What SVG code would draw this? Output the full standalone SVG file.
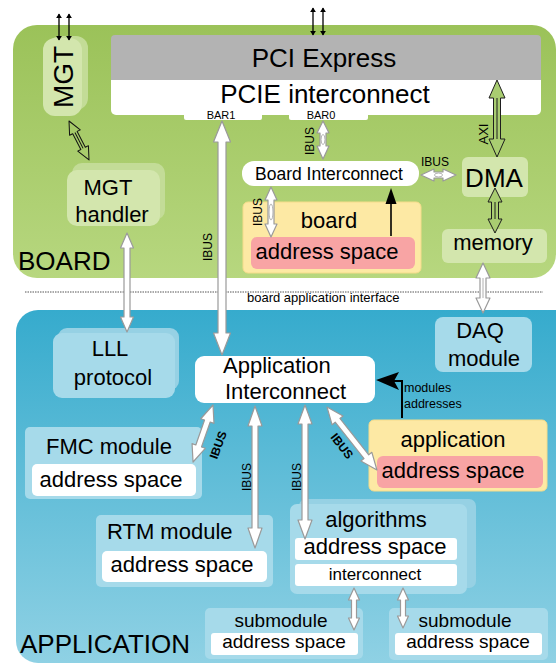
<svg xmlns="http://www.w3.org/2000/svg" width="556" height="663" viewBox="0 0 556 663">
<defs>
<linearGradient id="gBoard" x1="0" y1="0" x2="0" y2="1">
<stop offset="0" stop-color="#9bc259"/>
<stop offset="1" stop-color="#b7d77f"/>
</linearGradient>
<linearGradient id="gApp" x1="0" y1="0" x2="0" y2="1">
<stop offset="0" stop-color="#36abcd"/>
<stop offset="1" stop-color="#8fd1e4"/>
</linearGradient>
<marker id="mb" viewBox="0 0 8 10" refX="7" refY="5" markerWidth="5" markerHeight="6" orient="auto-start-reverse" markerUnits="userSpaceOnUse">
<path d="M0,0 L8,5 L0,10 Z" fill="#000"/>
</marker>
</defs>
<style>
text{font-family:"Liberation Sans",Arial,sans-serif;fill:#000}
.c{text-anchor:middle}
.region{font-size:26px}
.t22{font-size:22px}
.t26{font-size:26px}
.lbl{font-size:12px}
.bar{font-size:11px}
.bl{font-size:12px;font-weight:bold}
.lg{fill:#d3e6ad}
.lgs{fill:#c3dc97}
.lb{fill:#a6daea}
.lbs{fill:#96d1e4}
.wh{fill:#fff}
.yel{fill:#fde9a4;stroke:#f5dc8a;stroke-width:1}
.red{fill:#f8a4a4}
.wa{fill:#fff;stroke:#9a9a9a;stroke-width:1.2;stroke-linejoin:round}
.wl{stroke:#b0b0b0;stroke-width:1;fill:none}
.ga{fill:#a9cd71;stroke:#1e1e1e;stroke-width:1;stroke-linejoin:round}
.ka{fill:none;stroke:#111;stroke-width:1;stroke-linejoin:round}
.kl{stroke:#000;stroke-width:1.3;fill:none}
</style>

<g id="board-region">
<rect x="13" y="25" width="543" height="253" rx="24" fill="url(#gBoard)"/>
<text x="18" y="270" class="region">BOARD</text>
</g>
<g id="interface-line">
<line x1="25" y1="292" x2="543" y2="292" stroke="#555" stroke-width="1" stroke-dasharray="1.5,1"/>
<text x="247" y="302" style="font-size:13px">board application interface</text>
</g>
<g id="application-region">
<rect x="16" y="310" width="560" height="353" rx="22" fill="url(#gApp)"/>
<text x="20" y="653" class="region">APPLICATION</text>
</g>

<g id="pci-express">
<rect x="111" y="35" width="430" height="50" rx="4" fill="#b3b3b3"/>
<text x="324" y="67" class="c t26">PCI Express</text>
</g>
<g id="pcie-interconnect">
<rect x="111" y="80" width="430" height="35" rx="5" class="wh"/>
<rect x="111" y="80" width="430" height="10" class="wh"/>
<rect x="184" y="110" width="78" height="10" rx="2" class="wh"/>
<rect x="289" y="110" width="79" height="10" rx="2" class="wh"/>
<text x="325" y="103" class="c t26">PCIE interconnect</text>
<text x="221" y="119" class="c bar">BAR1</text>
<text x="321" y="119" class="c bar">BAR0</text>
</g>

<g id="mgt">
<rect x="48" y="36" width="40" height="74" rx="12" class="lgs"/>
<rect x="43" y="38" width="39" height="78" rx="12" class="lg"/>
<text transform="translate(73,77) rotate(-90)" class="c" style="font-size:28px">MGT</text>
</g>
<g id="mgt-handler">
<rect x="72" y="163" width="93" height="57" rx="10" class="lgs"/>
<rect x="67" y="170" width="93" height="56" rx="10" class="lg"/>
<text x="108" y="195" class="c t22">MGT</text>
<text x="112" y="222" class="c t22">handler</text>
</g>
<g id="board-interconnect">
<rect x="242" y="161" width="177" height="25" rx="12" class="wh"/>
<text x="329" y="180" class="c" style="font-size:17.5px">Board Interconnect</text>
</g>
<g id="board-address-space">
<rect x="243" y="202" width="178" height="71" rx="5" class="yel"/>
<text x="329" y="228" class="c t22">board</text>
<rect x="251" y="237" width="164" height="32" rx="6" class="red"/>
<text x="327" y="259" class="c t22">address space</text>
</g>
<g id="dma">
<rect x="462" y="157" width="66" height="40" rx="6" class="lg"/>
<text x="494" y="187" class="c t26">DMA</text>
</g>
<g id="memory">
<rect x="442" y="229" width="105" height="34" rx="6" class="lg"/>
<text x="493" y="250" class="c t22">memory</text>
</g>

<g id="daq-module">
<rect x="435" y="317" width="97" height="55" rx="8" class="lb"/>
<text x="480" y="338" class="c t22">DAQ</text>
<text x="484" y="366" class="c t22">module</text>
</g>
<g id="lll-protocol">
<rect x="58" y="328" width="121" height="62" rx="9" class="lbs"/>
<rect x="53" y="333" width="122" height="65" rx="9" class="lb"/>
<text x="110" y="356" class="c t22">LLL</text>
<text x="113" y="385" class="c t22">protocol</text>
</g>
<g id="application-interconnect">
<rect x="195" y="356" width="180" height="47" rx="9" class="wh"/>
<text x="223" y="373" class="t22">Application</text>
<text x="225" y="399" class="t22">Interconnect</text>
</g>
<g id="application">
<rect x="369" y="420" width="178" height="71" rx="5" class="yel"/>
<text x="453" y="447" class="c t22">application</text>
<rect x="377" y="456" width="166" height="32" rx="6" class="red"/>
<text x="453" y="478" class="c t22">address space</text>
</g>
<g id="fmc-module">
<rect x="25" y="427" width="177" height="72" rx="5" class="lb"/>
<text x="46" y="454" class="t22">FMC module</text>
<rect x="32" y="464" width="164" height="32" rx="5" class="wh"/>
<text x="111" y="487" class="c t22">address space</text>
</g>
<g id="rtm-module">
<rect x="96" y="515" width="177" height="72" rx="5" class="lb"/>
<text x="107" y="539" class="t22">RTM module</text>
<rect x="102" y="551" width="165" height="31" rx="5" class="wh"/>
<text x="182" y="572" class="c t22">address space</text>
</g>
<g id="algorithms">
<rect x="299" y="499" width="177" height="89" rx="7" class="lbs"/>
<rect x="290" y="504" width="177" height="90" rx="7" class="lb"/>
<text x="376" y="527" class="c t22">algorithms</text>
<rect x="295" y="538" width="162" height="22" rx="3" class="wh"/>
<text x="375" y="554" class="c t22">address space</text>
<rect x="295" y="564" width="162" height="22" rx="3" class="wh"/>
<text x="375" y="580" class="c" style="font-size:17px">interconnect</text>
</g>
<g id="submodule-left">
<rect x="205" y="608" width="158" height="51" rx="5" class="lb"/>
<text x="281" y="627" class="c" style="font-size:19px">submodule</text>
<rect x="211" y="633" width="147" height="22" rx="3" class="wh"/>
<text x="284" y="648" class="c" style="font-size:19px">address space</text>
</g>
<g id="submodule-right">
<rect x="389" y="608" width="159" height="52" rx="5" class="lb"/>
<text x="465" y="627" class="c" style="font-size:19px">submodule</text>
<rect x="395" y="633" width="147" height="22" rx="3" class="wh"/>
<text x="468" y="648" class="c" style="font-size:19px">address space</text>
</g>

<g id="connectors">
<line x1="59" y1="14" x2="59" y2="40" class="kl" marker-start="url(#mb)" marker-end="url(#mb)"/>
<line x1="69" y1="14" x2="69" y2="40" class="kl" marker-start="url(#mb)" marker-end="url(#mb)"/>
<line x1="313" y1="8" x2="313" y2="35" class="kl" marker-start="url(#mb)" marker-end="url(#mb)"/>
<line x1="323" y1="8" x2="323" y2="35" class="kl" marker-start="url(#mb)" marker-end="url(#mb)"/>

<g transform="translate(69,121) rotate(-27.2)">
<polygon class="ka" points="0,0 6,13 2.5,13 2.5,30.8 6,30.8 0,43.8 -6,30.8 -2.5,30.8 -2.5,13 -6,13"/>
<line x1="0" y1="13" x2="0" y2="30.8" stroke="#111" stroke-width="1"/>
</g>

<polygon class="wa" points="127,233 133.5,248 130,248 130,317 133.5,317 127,332 120.5,317 124,317 124,248 120.5,248"/>
<polygon class="wa" points="222,121 230.5,142 226,142 226,333 230.5,333 222,355 213.5,333 218,333 218,142 213.5,142"/>
<text transform="translate(212,247) rotate(-90)" class="c lbl">IBUS</text>

<polygon class="wa" points="323,121 329,133 326,133 326,146 329,146 323,159 317,146 320,146 320,133 317,133"/>
<ellipse cx="323" cy="139.5" rx="2" ry="5" class="wl"/>
<text transform="translate(314,141) rotate(-90)" class="c lbl">IBUS</text>

<polygon class="wa" points="271,187 277,200 274,200 274,224 277,224 271,237 265,224 268,224 268,200 265,200"/>
<ellipse cx="271" cy="212" rx="2" ry="8" class="wl"/>
<text transform="translate(262,212) rotate(-90)" class="c lbl">IBUS</text>

<polygon class="wa" points="421,175 434,169 434,172 443,172 443,169 456,175 443,181 443,178 434,178 434,181"/>
<ellipse cx="438.5" cy="175" rx="4" ry="2" class="wl"/>
<text x="435" y="166" class="c lbl">IBUS</text>

<line x1="391" y1="236" x2="391" y2="200" stroke="#000" stroke-width="1.6"/>
<polygon points="391,188 396.5,204 385.5,204" fill="#000"/>

<polygon class="ga" points="497,80 505,98 500.5,98 500.5,139 505,139 497,157 489,139 493.5,139 493.5,98 489,98"/>
<line x1="497" y1="98" x2="497" y2="139" stroke="#1e1e1e" stroke-width="1"/>
<text transform="translate(488,134) rotate(-90)" class="c" style="font-size:13px">AXI</text>

<polygon class="ga" points="495,188 502,202 498.5,202 498.5,219 502,219 495,233 488,219 491.5,219 491.5,202 488,202"/>
<line x1="495" y1="202" x2="495" y2="219" stroke="#1e1e1e" stroke-width="1"/>

<polygon class="wa" points="483,263 490,278 486,278 486,298 490,298 483,313 476,298 480,298 480,278 476,278"/>
<line x1="483" y1="278" x2="483" y2="298" class="wl"/>

<g transform="translate(213,405) rotate(19.3)">
<polygon class="wa" points="0,0 7,17 3,17 3,43.4 7,43.4 0,60.4 -7,43.4 -3,43.4 -3,17 -7,17"/>
</g>
<text transform="translate(222,446.4) rotate(-70)" class="c bl">IBUS</text>

<g transform="translate(327,407) rotate(-38.4)">
<polygon class="wa" points="0,0 7,17 3,17 3,63.4 7,63.4 0,80.4 -7,63.4 -3,63.4 -3,17 -7,17"/>
</g>
<text transform="translate(338.7,448.6) rotate(52)" class="c bl">IBUS</text>

<polygon class="wa" points="255,406 262,426 258,426 258,528 262,528 255,548 248,528 252,528 252,426 248,426"/>
<text transform="translate(251,477) rotate(-90)" class="c lbl">IBUS</text>

<polygon class="wa" points="305,405 312,424 308,424 308,520 312,520 305,539 298,520 302,520 302,424 298,424"/>
<text transform="translate(301,477) rotate(-90)" class="c lbl">IBUS</text>

<polyline points="402,418 402,381 394,381" stroke="#000" stroke-width="2" fill="none"/>
<polygon points="376,380 399,372 394,381 399,390" fill="#000"/>
<text x="404" y="392" style="font-size:12.5px">modules</text>
<text x="404" y="408" style="font-size:12.5px">addresses</text>

<polygon class="wa" points="354,588 359.5,600 356.5,600 356.5,618 359.5,618 354,630 348.5,618 351.5,618 351.5,600 348.5,600"/>
<polygon class="wa" points="403,588 408.5,600 405.5,600 405.5,616 408.5,616 403,628 397.5,616 400.5,616 400.5,600 397.5,600"/>
</g>
</svg>
